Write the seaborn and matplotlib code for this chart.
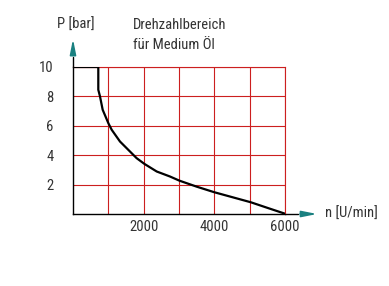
import matplotlib
matplotlib.use("Agg")
import matplotlib.pyplot as plt
import seaborn as sns
import pandas as pd

# data
n_rpm = [0, 716, 716, 764, 840, 1000, 1095, 1330, 1613, 1800, 2020, 2370, 2745,
         3010, 3500, 4000, 4500, 5030, 5500, 6000]
p_bar = [10, 10, 8.45, 8.0, 7.09, 6.18, 5.73, 4.93, 4.25, 3.8, 3.41, 2.89, 2.55,
         2.27, 1.86, 1.48, 1.15, 0.80, 0.42, 0.02]
x_ticks = [1000, 2000, 3000, 4000, 5000, 6000]
x_labels = ["", "2000", "", "4000", "", "6000"]
y_ticks = [2, 4, 6, 8, 10]
y_labels = ["2", "4", "6", "8", "10"]

sns.set_style("white")
FONT = ["Roboto Condensed", "Archivo Narrow", "PT Sans Narrow", "Open Sans", "DejaVu Sans"]
plt.rcParams["font.family"] = FONT
TXT = "#333333"
RED = "#cc1f1f"
TEAL = "#1a8080"
FS = 10.5

W, H = 389, 286
fig = plt.figure(figsize=(W / 100, H / 100), dpi=100)
ax = fig.add_axes([73 / W, 1 - 214 / H, 212 / W, 147 / H])

df = pd.DataFrame({"n": n_rpm, "p": p_bar})
sns.lineplot(data=df, x="n", y="p", ax=ax, sort=False, estimator=None,
             color="black", linewidth=1.6, zorder=5)

ax.set_xlim(0, 6000)
ax.set_ylim(0, 10)
ax.set_xticks(x_ticks)
ax.set_xticklabels(x_labels)
ax.set_yticks(y_ticks)
ax.set_yticklabels(y_labels)
ax.tick_params(axis="both", length=0, labelsize=FS, labelcolor=TXT)
ax.tick_params(axis="x", pad=4)
ax.tick_params(axis="y", pad=14)
ax.set_xlabel("")
ax.set_ylabel("")
ax.grid(True, color=RED, linewidth=0.8)

for s in ["top", "right"]:
    ax.spines[s].set_color(RED)
    ax.spines[s].set_linewidth(0.8)
for s in ["left", "bottom"]:
    ax.spines[s].set_color("black")
    ax.spines[s].set_linewidth(1.0)

# axis extensions and arrows (axes coordinates)
ax.plot([0, 0], [1, 1.068], color="black", lw=1.0, transform=ax.transAxes, clip_on=False)
ax.annotate("", xy=(0, 1.21), xytext=(0, 1.06), xycoords="axes fraction",
            arrowprops=dict(arrowstyle="-|>,head_length=0.9,head_width=0.18", color=TEAL, lw=1.2))
ax.plot([1, 1.061], [0, 0], color="black", lw=1.0, transform=ax.transAxes, clip_on=False)
ax.annotate("", xy=(1.165, 0), xytext=(1.058, 0), xycoords="axes fraction",
            arrowprops=dict(arrowstyle="-|>,head_length=0.9,head_width=0.18", color=TEAL, lw=1.2))

fig.text(57 / W, 1 - 25 / H, "P [bar]", ha="left", va="center", fontsize=FS, color=TXT)
fig.text(133 / W, 1 - 25 / H, "Drehzahlbereich", ha="left", va="center", fontsize=FS, color=TXT)
fig.text(133 / W, 1 - 45 / H, "für Medium Öl", ha="left", va="center", fontsize=FS, color=TXT)
fig.text(325 / W, 1 - 214 / H, "n [U/min]", ha="left", va="center", fontsize=FS, color=TXT)

fig.savefig("out.png", dpi=100, facecolor="white")
